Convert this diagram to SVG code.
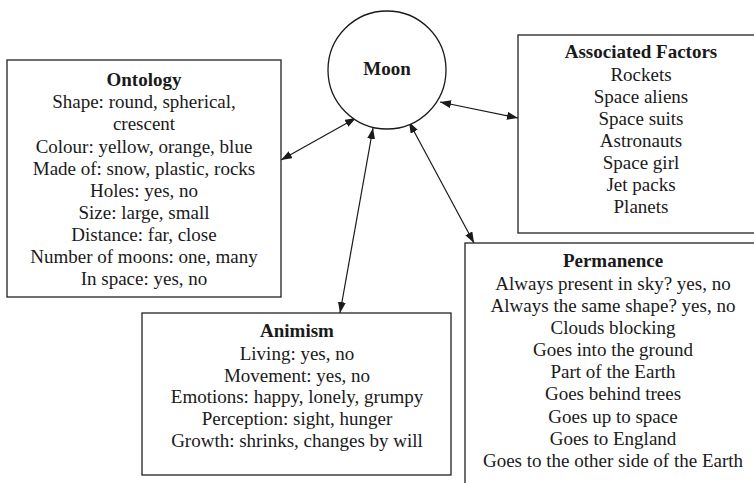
<svg xmlns="http://www.w3.org/2000/svg" width="754" height="483" viewBox="0 0 754 483">
<style>
.box{fill:#fff;stroke:#222;stroke-width:1.3}
text{font-family:'Liberation Serif','Times New Roman',Times,serif;font-size:19px;fill:#1a1a1a;text-anchor:middle}
.h{font-weight:bold}
.c{fill:none;stroke:#1a1a1a;stroke-width:1.2;marker-start:url(#ah);marker-end:url(#ah)}
</style>
<defs>
<marker id="ah" viewBox="0 0 11 8" refX="11" refY="4" markerWidth="11" markerHeight="8" markerUnits="userSpaceOnUse" orient="auto-start-reverse">
<path d="M0,0 L11,4 L0,8 z" fill="#1a1a1a"/>
</marker>
</defs>
<rect width="754" height="483" fill="#fff"/>
<g id="connectors">
<line class="c" x1="281" y1="160" x2="356" y2="118"/>
<line class="c" x1="373" y1="128" x2="340" y2="313"/>
<line class="c" x1="409" y1="122" x2="474" y2="243"/>
<line class="c" x1="440" y1="102" x2="518" y2="118"/>
</g>
<g id="moon" font-family="Liberation Serif, serif">
<circle cx="387" cy="70" r="59" fill="#fff" stroke="#1a1a1a" stroke-width="1.3"/>
<text class="h" x="387" y="75">Moon</text>
</g>
<g id="ontology" font-family="Liberation Serif, serif">
<rect class="box" x="7" y="60" width="274" height="237"/>
<text class="h" x="144" y="86">Ontology</text>
<text x="144" y="108">Shape: round, spherical,</text>
<text x="144" y="130">crescent</text>
<text x="144" y="153">Colour: yellow, orange, blue</text>
<text x="144" y="175">Made of: snow, plastic, rocks</text>
<text x="144" y="197">Holes: yes, no</text>
<text x="144" y="219">Size: large, small</text>
<text x="144" y="241">Distance: far, close</text>
<text x="144" y="263">Number of moons: one, many</text>
<text x="144" y="285">In space: yes, no</text>
</g>
<g id="associated" font-family="Liberation Serif, serif">
<rect class="box" x="518" y="35" width="250" height="198"/>
<text class="h" x="641" y="58">Associated Factors</text>
<text x="641" y="81">Rockets</text>
<text x="641" y="103">Space aliens</text>
<text x="641" y="125">Space suits</text>
<text x="641" y="147">Astronauts</text>
<text x="641" y="169">Space girl</text>
<text x="641" y="191">Jet packs</text>
<text x="641" y="213">Planets</text>
</g>
<g id="permanence" font-family="Liberation Serif, serif">
<rect class="box" x="465" y="243" width="300" height="260"/>
<text class="h" x="613" y="267">Permanence</text>
<text x="613" y="290">Always present in sky? yes, no</text>
<text x="613" y="312">Always the same shape? yes, no</text>
<text x="613" y="334">Clouds blocking</text>
<text x="613" y="356">Goes into the ground</text>
<text x="613" y="378">Part of the Earth</text>
<text x="613" y="400">Goes behind trees</text>
<text x="613" y="423">Goes up to space</text>
<text x="613" y="445">Goes to England</text>
<text x="613" y="467">Goes to the other side of the Earth</text>
</g>
<g id="animism" font-family="Liberation Serif, serif">
<rect class="box" x="142" y="313" width="309" height="162"/>
<text class="h" x="297" y="337">Animism</text>
<text x="297" y="360">Living: yes, no</text>
<text x="297" y="382">Movement: yes, no</text>
<text x="297" y="403">Emotions: happy, lonely, grumpy</text>
<text x="297" y="425">Perception: sight, hunger</text>
<text x="297" y="447">Growth: shrinks, changes by will</text>
</g>
</svg>
